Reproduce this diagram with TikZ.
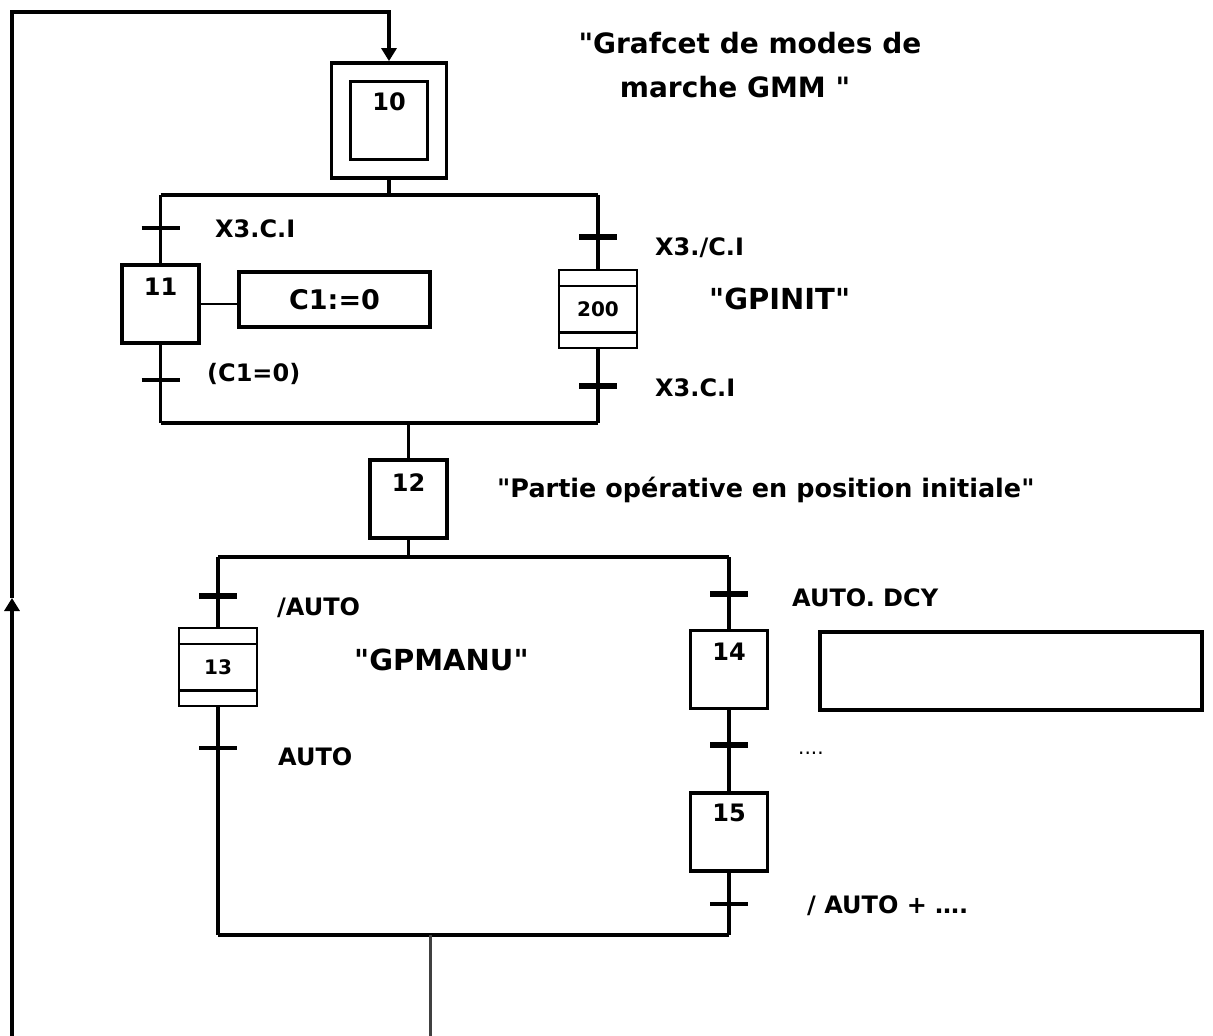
\documentclass[tikz,border=0pt]{standalone}
\usepackage{fontspec}
\newfontfamily\dv{DejaVu Sans}
\usetikzlibrary{arrows.meta}
\newcommand\tk[3]{\draw[#1] (#2-19,#3) -- (#2+19,#3);}
\begin{document}
\begin{tikzpicture}[x=1pt,y=-1pt,
  every node/.style={inner sep=0pt},
  fs/.style={font=\dv\bfseries\fontsize{#1}{#1}\selectfont},
  ln/.style={line width=3.8pt},
  stepbox/.style={draw,line width=3.8pt,minimum width=77pt,minimum height=78pt},
  macrobox/.style={draw,line width=2.5pt,minimum width=78pt,minimum height=78pt,fs=20},
  actbox/.style={draw,line width=3.8pt},
  tick/.style={line width=4pt},
  bigtick/.style={line width=5.5pt},
  lbl/.style={anchor=base west,fs=24},
  num/.style={anchor=north,fs=24},
  tip/.style={-{Triangle[length=13pt,width=15pt]}}
]
\useasboundingbox (0,0) rectangle (1213,1036);

% ---- step 10 (initial)
\node[stepbox,minimum width=115pt,minimum height=115pt] (s10) at (389,120.5) {};
\node[stepbox] (s10i) at (s10.center) {};
\node[num] (n10) at ([yshift=-13pt]s10i.north) {10};

% ---- loop back
\coordinate (lb) at (12,1036);
\coordinate (lm) at (12,598);
\coordinate (lt) at (12,12);
\draw[ln,tip] (lb) -- (lm);
\draw[ln,tip] (lm) -- (lt) -- (lt -| s10.north) -- (s10.north);

% ---- title
\node[anchor=base,fs=28] (ti1) at (750,53) {"Grafcet de modes de};
\node[anchor=base,fs=28] (ti2) at (735,97) {marche GMM "};

% ---- divergence 1
\coordinate (d1) at (389,195);
\coordinate (d1l) at (160.5,195);
\coordinate (d1r) at (598,195);
\draw[ln] (s10.south) -- (d1);
\draw[ln] (d1l) -- (d1r);

% left branch: step 11
\node[stepbox] (s11) at (160.5,304) {};
\node[num] (n11) at ([yshift=-15pt]s11.north) {11};
\node[actbox,minimum width=191pt,minimum height=55pt,fs=27] (a11) at (334.5,299.5) {C1:=0};
\draw[line width=1.2pt] (s11.east) -- (s11.east -| a11.west);
\coordinate (c1l) at (160.5,423);
\draw[ln] (d1l) -- (s11.north);
\draw[ln] (s11.south) -- (c1l);
\tk{tick}{160.5}{228}
\tk{tick}{160.5}{380}
\node[lbl] (l1) at (215,237) {X3.C.I};
\node[lbl] (l2) at (207,381) {(C1=0)};

% right branch: macro step 200
\node[macrobox] (m200) at (598,309) {200};
\draw[line width=2.5pt] ([yshift=-17pt]m200.north west) -- ([yshift=-17pt]m200.north east);
\draw[line width=2.5pt] ([yshift=17pt]m200.south west) -- ([yshift=17pt]m200.south east);
\coordinate (c1r) at (598,423);
\draw[ln] (d1r) -- (m200.north);
\draw[ln] (m200.south) -- (c1r);
\tk{bigtick}{598}{237}
\tk{bigtick}{598}{386}
\node[lbl] (l3) at (655,255) {X3./C.I};
\node[lbl] (l4) at (655,396) {X3.C.I};
\node[lbl,fs=29] (l5) at (709,309) {"GPINIT"};

% ---- convergence 1 and step 12
\draw[ln] (c1l) -- (c1r);
\coordinate (c1) at (408.5,423);
\node[stepbox] (s12) at (408.5,499) {};
\node[num] (n12) at ([yshift=-15pt]s12.north) {12};
\draw[ln] (c1) -- (s12.north);
\node[lbl,fs=25.5] (l12) at (497,497) {"Partie opérative en position initiale"};

% ---- divergence 2
\coordinate (d2) at (408.5,557);
\coordinate (d2l) at (218,557);
\coordinate (d2r) at (729,557);
\draw[ln] (s12.south) -- (d2);
\draw[ln] (d2l) -- (d2r);

% left: macro step 13
\node[macrobox] (m13) at (218,667) {13};
\draw[line width=2.5pt] ([yshift=-17pt]m13.north west) -- ([yshift=-17pt]m13.north east);
\draw[line width=2.5pt] ([yshift=17pt]m13.south west) -- ([yshift=17pt]m13.south east);
\coordinate (c2l) at (218,935);
\draw[ln] (d2l) -- (m13.north);
\draw[ln] (m13.south) -- (c2l);
\tk{bigtick}{218}{596}
\tk{tick}{218}{748}
\node[lbl] (l6) at (277,615) {/AUTO};
\node[lbl] (l7) at (278,765) {AUTO};
\node[lbl,fs=29] (l8) at (354,670) {"GPMANU"};

% right: steps 14, 15
\node[stepbox] (s14) at (729,669.5) {};
\node[num] (n14) at ([yshift=-14pt]s14.north) {14};
\node[actbox,minimum width=382pt,minimum height=78pt] (a14) at (1011,671) {};
\node[stepbox] (s15) at (729,832) {};
\node[num] (n15) at ([yshift=-13pt]s15.north) {15};
\coordinate (c2r) at (729,935);
\draw[ln] (d2r) -- (s14.north);
\draw[ln] (s14.south) -- (s15.north);
\draw[ln] (s15.south) -- (c2r);
\tk{bigtick}{729}{594}
\tk{bigtick}{729}{745}
\tk{tick}{729}{904}
\node[lbl] (l9) at (792,606) {AUTO. DCY};
\node[lbl,font=\dv\fontsize{20}{20}\selectfont] (l10) at (798,754) {....};
\node[lbl] (l11) at (807,913) {/ AUTO + ….};

% ---- convergence 2 and output
\draw[ln] (c2l) -- (c2r);
\coordinate (c2) at (430,935);
\coordinate (out) at (430,1036);
\draw[line width=3pt,black!75] (c2) -- (out);
\end{tikzpicture}
\end{document}
